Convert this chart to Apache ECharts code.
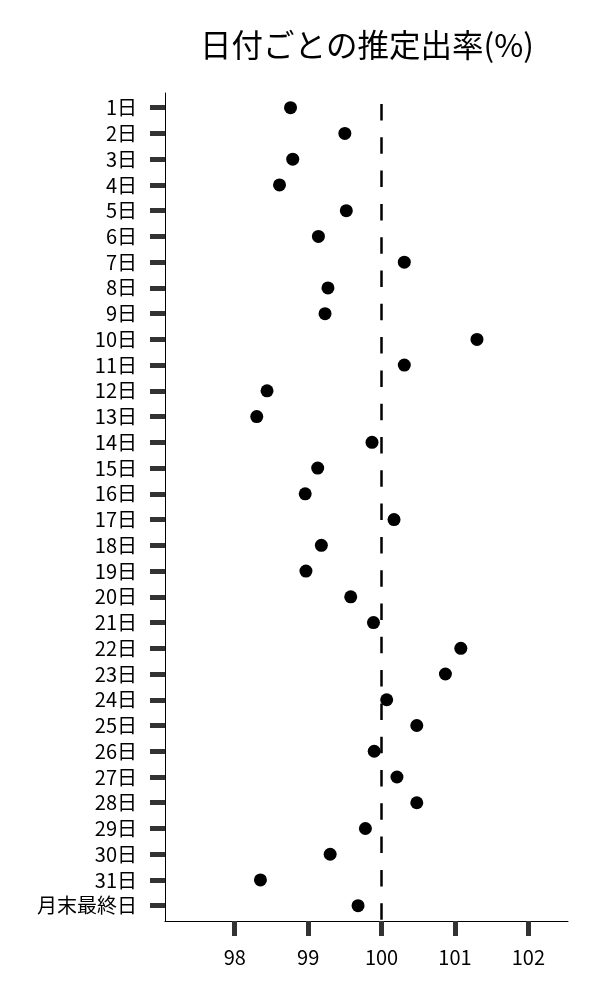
<!DOCTYPE html>
<html>
<head>
<meta charset="utf-8">
<script src="https://cdn.jsdelivr.net/npm/echarts@6/dist/echarts.min.js"></script>
<style>
  html, body { margin: 0; padding: 0; background: #fff; }
  #chart { width: 600px; height: 1000px; }
</style>
</head>
<body>
<div id="chart"></div>
<script>
// 日付ラベル
var days = ['1日','2日','3日','4日','5日','6日','7日','8日','9日','10日',
            '11日','12日','13日','14日','15日','16日','17日','18日','19日','20日',
            '21日','22日','23日','24日','25日','26日','27日','28日','29日','30日',
            '31日','月末最終日'];
// 推定出率(%)
var rates = [98.76, 99.50, 98.79, 98.61, 99.52, 99.14, 100.31, 99.27, 99.23, 101.30,
             100.31, 98.44, 98.30, 99.87, 99.13, 98.96, 100.17, 99.18, 98.97, 99.58,
             99.89, 101.08, 100.87, 100.07, 100.48, 99.90, 100.21, 100.48, 99.78, 99.30,
             98.35, 99.68];
var xTicks = [98, 99, 100, 101, 102];
var refLine = 100;

var font = 'Noto Sans CJK JP';
var dayIdx = days.map(function (d, i) { return i; });
var chart = echarts.init(document.getElementById('chart'));

var option = {
    backgroundColor: '#fff',
    animation: false,
    title: {
        text: '日付ごとの推定出率(%)',
        left: 362,
        top: 24,
        textAlign: 'center',
        textStyle: { fontFamily: font, fontSize: 31.5, fontWeight: 'normal', color: '#000' }
    },
    grid: { left: 165, right: 32, top: 93, bottom: 79 },
    xAxis: {
        type: 'value',
        min: 97.05,
        max: 102.54,
        splitLine: { show: false },
        axisLine: { show: true, onZero: false, lineStyle: { color: '#000', width: 1 } },
        axisTick: {
            show: true, length: 15, customValues: xTicks,
            lineStyle: { color: '#333', width: 5 }
        },
        axisLabel: {
            customValues: xTicks, margin: 26,
            fontFamily: font, fontSize: 20, color: '#000'
        }
    },
    yAxis: {
        type: 'value',
        inverse: true,
        min: -0.571,
        max: 31.594,
        splitLine: { show: false },
        axisLine: { show: true, onZero: false, lineStyle: { color: '#000', width: 1 } },
        axisTick: {
            show: true, length: 15, customValues: dayIdx,
            lineStyle: { color: '#333', width: 5 }
        },
        axisLabel: {
            customValues: dayIdx, margin: 28,
            fontFamily: font, fontSize: 20, color: '#000',
            formatter: function (v) { return days[Math.round(v)]; }
        }
    },
    series: [{
        type: 'scatter',
        symbolSize: 13,
        itemStyle: { color: '#000', opacity: 1 },
        data: rates.map(function (v, i) { return [v, i]; }),
        markLine: {
            silent: true,
            symbol: 'none',
            label: { show: false },
            lineStyle: { color: '#000', width: 2.5, type: [16.5, 16.8], dashOffset: 22.3, opacity: 1 },
            data: [{ xAxis: refLine }]
        }
    }]
};
chart.setOption(option);
</script>
</body>
</html>
